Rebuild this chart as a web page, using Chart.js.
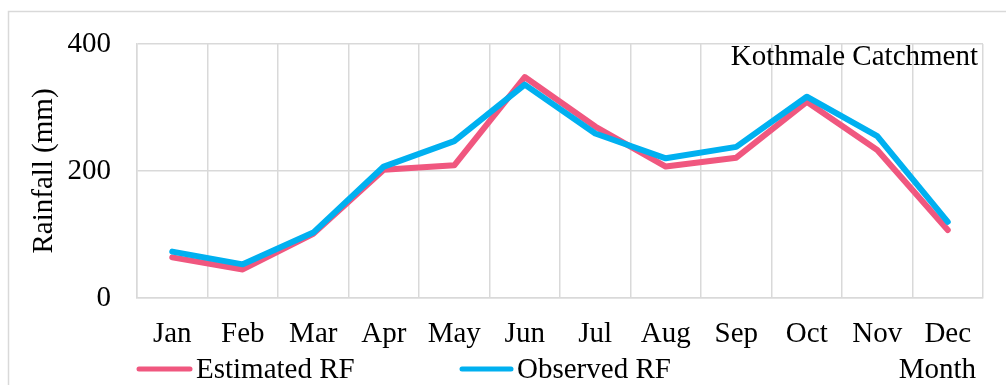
<!DOCTYPE html>
<html>
<head>
<meta charset="utf-8">
<script src="https://cdn.jsdelivr.net/npm/chart.js@4.4.1/dist/chart.umd.min.js"></script>
<style>
  html, body { margin: 0; padding: 0; background: #ffffff; }
  #wrap { width: 1006px; height: 385px; position: relative; }
</style>
</head>
<body>
<div id="wrap"><canvas id="c" width="1006" height="385"></canvas></div>
<script>
// Monthly rainfall, Kothmale catchment (mm)
const months = ['Jan','Feb','Mar','Apr','May','Jun','Jul','Aug','Sep','Oct','Nov','Dec'];
const estimatedRF = [64, 45, 101, 202, 209, 348, 270, 207, 221, 309, 233, 107];
const observedRF  = [73, 53, 103, 207, 247, 336, 259, 220, 238, 317, 255, 120];
const yTicks = [0, 200, 400];

const FONT = '"Liberation Serif", "Times New Roman", serif';
const FS = 29;
const PINK = '#F0577F';
const BLUE = '#00B0F0';
const GRID = '#d9d9d9';

// Frame, axis title, legend and captions drawn around the plot area
const decor = {
  id: 'decor',
  beforeDraw(chart) {
    const ctx = chart.ctx;
    ctx.save();
    ctx.fillStyle = '#ffffff';
    ctx.fillRect(0, 0, chart.width, chart.height);
    ctx.strokeStyle = GRID;
    ctx.lineWidth = 1.5;
    ctx.strokeRect(8.5, 11.5, chart.width + 10, chart.height + 10);
    ctx.restore();
  },
  afterDraw(chart) {
    const ctx = chart.ctx;
    const a = chart.chartArea;
    ctx.save();
    ctx.fillStyle = '#000000';
    ctx.font = FS + 'px ' + FONT;

    // y axis title
    ctx.save();
    ctx.translate(44, (a.top + a.bottom) / 2);
    ctx.rotate(-Math.PI / 2);
    ctx.textAlign = 'center';
    ctx.textBaseline = 'middle';
    ctx.fillText('Rainfall (mm)', 0, 0);
    ctx.restore();

    // catchment caption
    ctx.textAlign = 'right';
    ctx.textBaseline = 'alphabetic';
    ctx.fillText('Kothmale Catchment', 978, 65);

    // legend
    const ly = 369;
    const items = [
      { ds: chart.data.datasets[0], x0: 137, x1: 192, tx: 196 },
      { ds: chart.data.datasets[1], x0: 460, x1: 513, tx: 517 }
    ];
    ctx.textAlign = 'left';
    ctx.textBaseline = 'middle';
    items.forEach(it => {
      ctx.strokeStyle = it.ds.borderColor;
      ctx.lineWidth = 5;
      ctx.lineCap = 'round';
      ctx.beginPath();
      ctx.moveTo(it.x0 + 2, ly);
      ctx.lineTo(it.x1 - 2, ly);
      ctx.stroke();
      ctx.fillText(it.ds.label, it.tx, ly + 1);
    });

    // x axis title
    ctx.textAlign = 'right';
    ctx.fillText('Month', 976, ly + 1);
    ctx.restore();
  }
};

new Chart(document.getElementById('c'), {
  type: 'line',
  data: {
    labels: months,
    datasets: [
      { label: 'Estimated RF', data: estimatedRF, borderColor: PINK, backgroundColor: PINK,
        borderWidth: 6, pointRadius: 0, tension: 0, order: 1,
        borderCapStyle: 'round', borderJoinStyle: 'round' },
      { label: 'Observed RF', data: observedRF, borderColor: BLUE, backgroundColor: BLUE,
        borderWidth: 6, pointRadius: 0, tension: 0, order: 0,
        borderCapStyle: 'round', borderJoinStyle: 'round' }
    ]
  },
  options: {
    responsive: false,
    animation: false,
    events: [],
    layout: { padding: { left: 0, right: 23, top: 44, bottom: 0 } },
    plugins: { legend: { display: false }, tooltip: { enabled: false } },
    scales: {
      x: {
        offset: true,
        grid: { offset: true, color: GRID, lineWidth: 1.5, drawTicks: false },
        border: { color: GRID, width: 1.5 },
        ticks: { color: '#000', font: { family: FONT, size: FS }, padding: 19, maxRotation: 0, autoSkip: false },
        afterFit(s) { s.height = 87; }
      },
      y: {
        min: 0, max: 400,
        afterBuildTicks(s) { s.ticks = yTicks.map(v => ({ value: v })); },
        grid: { color: GRID, lineWidth: 1.5, drawTicks: false },
        border: { color: GRID, width: 1.5 },
        ticks: { color: '#000', font: { family: FONT, size: FS }, padding: 26 },
        afterFit(s) { s.width = 137; }
      }
    }
  },
  plugins: [decor]
});
</script>
</body>
</html>
